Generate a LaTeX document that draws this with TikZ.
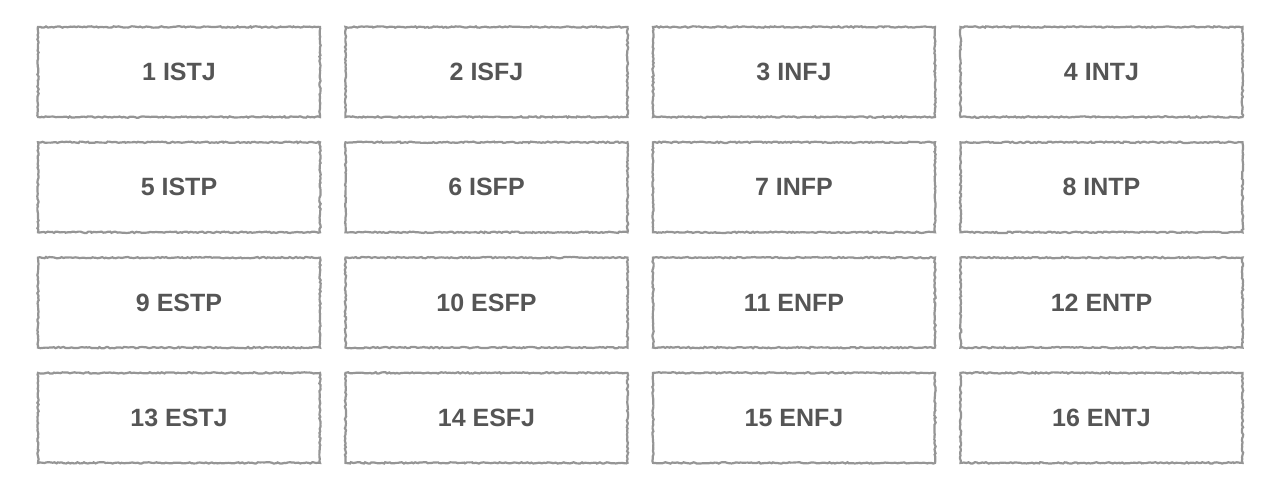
\documentclass[tikz,border=0pt]{standalone}
\usepackage{fontspec}
\setmainfont{Liberation Sans}
\usetikzlibrary{decorations.pathmorphing}
\definecolor{boxgray}{HTML}{959595}
\definecolor{txtgray}{HTML}{555555}
\begin{document}
\begin{tikzpicture}[x=1pt,y=-1pt,
  mbtibox/.style={draw=boxgray, line width=2.2pt, minimum width=282pt, minimum height=90pt,
    inner sep=0pt, font=\fontsize{25}{28}\selectfont\bfseries, text=txtgray,
    decorate, decoration={random steps, segment length=2pt, amplitude=0.7pt}}]
\useasboundingbox (0,0) rectangle (1280,489);
\foreach \t [count=\i from 0] in {1 ISTJ,2 ISFJ,3 INFJ,4 INTJ,5 ISTP,6 ISFP,7 INFP,8 INTP,9 ESTP,10 ESFP,11 ENFP,12 ENTP,13 ESTJ,14 ESFJ,15 ENFJ,16 ENTJ}{
  \pgfmathtruncatemacro{\c}{mod(\i,4)}
  \pgfmathtruncatemacro{\r}{div(\i,4)}
  \pgfmathsetmacro{\xx}{179+307.5*\c}
  \pgfmathsetmacro{\yy}{72+115.3*\r}
  \node[mbtibox] (b\i) at (\xx,\yy) {\t};
}
\end{tikzpicture}
\end{document}
